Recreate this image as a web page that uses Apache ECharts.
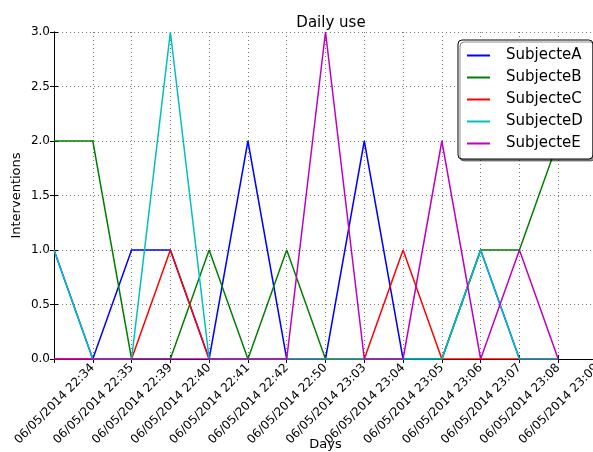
<!DOCTYPE html>
<html>
<head>
<meta charset="utf-8">
<script src="https://cdn.jsdelivr.net/npm/echarts@6/dist/echarts.min.js"></script>
<style>html,body{margin:0;padding:0;background:#fff}#c{width:593px;height:452px}</style>
</head>
<body>
<div id="c"></div>
<script>
const tickLabels = ['06/05/2014 22:34','06/05/2014 22:35','06/05/2014 22:39','06/05/2014 22:40','06/05/2014 22:41','06/05/2014 22:42','06/05/2014 22:50','06/05/2014 23:03','06/05/2014 23:04','06/05/2014 23:05','06/05/2014 23:06','06/05/2014 23:07','06/05/2014 23:08','06/05/2014 23:09'];
const seriesNames = ['SubjecteA','SubjecteB','SubjecteC','SubjecteD','SubjecteE'];
const subjecteA = [1,0,1,1,0,2,0,0,2,0,0,1,0,0];
const subjecteB = [2,2,0,0,1,0,1,0,0,0,0,1,1,2];
const subjecteC = [0,0,0,1,0,0,0,0,0,1,0,0,0,0];
const subjecteD = [1,0,0,3,0,0,0,0,0,0,0,1,0,0];
const subjecteE = [0,0,0,0,0,0,0,3,0,0,2,0,1,0];
const colors = ['#0000ff','#008000','#ff0000','#00bfbf','#bf00bf'];
const allValues = [subjecteA, subjecteB, subjecteC, subjecteD, subjecteE];

const font = 'DejaVu Sans';
const chart = echarts.init(document.getElementById('c'));
const gridLine = {show:true, lineStyle:{color:'#777', width:1, type:[1,3]}};
chart.setOption({
  animation:false,
  backgroundColor:'#fff',
  textStyle:{fontFamily:font, color:'#000'},
  title:{text:'Daily use', left:326, textAlign:'center', top:11,
    textStyle:{fontFamily:font, fontSize:15, fontWeight:'normal', color:'#000'}},
  grid:{left:54, top:32, width:543, height:327, containLabel:false, outerBoundsMode:'none'},
  legend:{
    orient:'vertical', left:458, top:40,
    data:seriesNames,
    icon:'rect', itemWidth:23, itemHeight:2, itemGap:7,
    padding:[8,10,8,9],
    backgroundColor:'#fff', borderColor:'#000', borderWidth:1, borderRadius:4,
    shadowColor:'rgba(0,0,0,0.45)', shadowBlur:0, shadowOffsetX:2, shadowOffsetY:2,
    textStyle:{fontFamily:font, fontSize:15, lineHeight:15, color:'#000', padding:[0,0,0,11]}
  },
  xAxis:[{
    type:'value', min:0, max:14, interval:1,
    name:'Days', nameLocation:'middle', nameGap:79, nameMoveOverlap:false,
    nameTextStyle:{fontFamily:font, fontSize:13, color:'#000'},
    axisLine:{show:true, onZero:false, lineStyle:{color:'#000', width:1}},
    axisTick:{show:true, inside:true, length:4, lineStyle:{color:'#000'}},
    axisLabel:{rotate:45, fontFamily:font, fontSize:12, color:'#000', margin:7,
      hideOverlap:false, showMinLabel:true, showMaxLabel:true,
      formatter:function(v){ return v>=1 ? tickLabels[Math.round(v)-1] : ''; }},
    splitLine:gridLine
  },{
    type:'value', min:0, max:14, interval:1, position:'top',
    axisLine:{show:true, lineStyle:{color:'#000', width:1}},
    axisTick:{show:true, inside:true, length:4, lineStyle:{color:'#000'}},
    axisLabel:{show:false}, splitLine:{show:false}
  }],
  yAxis:[{
    type:'value', min:0, max:3, interval:0.5,
    name:'Interventions', nameLocation:'middle', nameGap:31, nameMoveOverlap:false,
    nameTextStyle:{fontFamily:font, fontSize:13, color:'#000'},
    axisLine:{show:true, onZero:false, lineStyle:{color:'#000', width:1}},
    axisTick:{show:true, inside:true, length:4, lineStyle:{color:'#000'}},
    axisLabel:{fontFamily:font, fontSize:12, color:'#000', margin:4,
      formatter:function(v){ return v.toFixed(1); }},
    splitLine:gridLine
  },{
    type:'value', min:0, max:3, interval:0.5, position:'right',
    axisLine:{show:true, lineStyle:{color:'#000', width:1}},
    axisTick:{show:true, inside:true, length:4},
    axisLabel:{show:false}, splitLine:{show:false}
  }],
  series: seriesNames.map(function(n, k){
    return {
      name:n, type:'line', xAxisIndex:0, yAxisIndex:0,
      data: allValues[k].map(function(v, i){ return [i, v]; }),
      showSymbol:false, symbol:'none',
      lineStyle:{color:colors[k], width:1.5},
      itemStyle:{color:colors[k]},
      z: 2 + k
    };
  })
});
</script>
</body>
</html>
